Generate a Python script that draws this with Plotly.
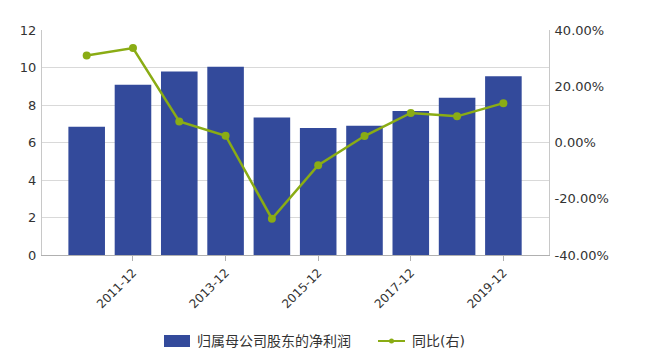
import plotly.graph_objects as go

categories = ["2010-12", "2011-12", "2012-12", "2013-12", "2014-12",
              "2015-12", "2016-12", "2017-12", "2018-12", "2019-12"]
net_profit = [6.84, 9.08, 9.79, 10.04, 7.34, 6.77, 6.90, 7.68, 8.39, 9.53]
yoy_pct = [30.9, 33.6, 7.5, 2.4, -27.1, -8.1, 2.3, 10.5, 9.3, 14.0]
x_tick_labels = ["2011-12", "2013-12", "2015-12", "2017-12", "2019-12"]
y2_tick_vals = [-40, -20, 0, 20, 40]
y2_tick_text = ["-40.00%", "-20.00%", "0.00%", "20.00%", "40.00%"]
bar_name = "归属母公司股东的净利润"
line_name = "同比(右)"

bar_color = "#334a9b"
line_color = "#8aac14"
font_fam = "DejaVu Sans, Noto Sans CJK SC"

L, R, T, B = 42, 101, 30, 104
W, H = 650, 359
PW, PH = W - L - R, H - T - B


def px(x):
    return (x - L) / PW


def py(y):
    return (H - B - y) / PH


fig = go.Figure()
fig.add_trace(go.Bar(
    x=categories, y=net_profit, name=bar_name,
    marker=dict(color=bar_color, line=dict(width=0)),
))
fig.add_trace(go.Scatter(
    x=categories, y=yoy_pct, name=line_name, yaxis="y2",
    mode="lines+markers",
    line=dict(color=line_color, width=2.5),
    marker=dict(color=line_color, size=8),
))

# custom legend (wide swatches like the reference)
shapes = [
    dict(type="rect", xref="paper", yref="paper",
         x0=px(164), x1=px(190), y0=py(347), y1=py(335),
         fillcolor=bar_color, line=dict(width=0)),
    dict(type="line", xref="paper", yref="paper",
         x0=px(378), x1=px(405), y0=py(341), y1=py(341),
         line=dict(color=line_color, width=2)),
    dict(type="circle", xref="paper", yref="paper",
         x0=px(389), x1=px(394), y0=py(343.5), y1=py(338.5),
         fillcolor=line_color, line=dict(width=0)),
]
annotations = [
    dict(text=bar_name, xref="paper", yref="paper", x=px(195), y=py(341),
         xanchor="left", yanchor="middle", showarrow=False,
         font=dict(size=14, color="#333333")),
    dict(text=line_name, xref="paper", yref="paper", x=px(410), y=py(341),
         xanchor="left", yanchor="middle", showarrow=False,
         font=dict(size=14, color="#333333")),
]

fig.update_layout(
    width=W, height=H,
    margin=dict(l=L, r=R, t=T, b=B, autoexpand=False),
    paper_bgcolor="white", plot_bgcolor="white",
    bargap=0.21,
    font=dict(family=font_fam, size=12, color="#333333"),
    showlegend=False,
    shapes=shapes, annotations=annotations,
    xaxis=dict(
        type="category", categoryorder="array", categoryarray=categories,
        range=[-0.965, 9.985],
        tickvals=x_tick_labels, ticktext=x_tick_labels,
        tickangle=-45, ticks="outside", ticklen=5, tickcolor="#b0b0b0",
        showline=True, linecolor="#b0b0b0", linewidth=1,
        showgrid=False, tickfont=dict(size=12, color="#333333"),
    ),
    yaxis=dict(
        range=[0, 12], dtick=2, showgrid=True, gridcolor="#d9d9d9", gridwidth=1,
        showline=True, linecolor="#c8c8c8", linewidth=1, zeroline=False,
        tickfont=dict(size=13, color="#333333"), ticklabelstandoff=2,
    ),
    yaxis2=dict(
        overlaying="y", side="right", range=[-40, 40],
        tickvals=y2_tick_vals, ticktext=y2_tick_text,
        showgrid=False, zeroline=False,
        showline=True, linecolor="#c8c8c8", linewidth=1,
        tickfont=dict(size=13, color="#333333"), ticklabelstandoff=2,
    ),
)

fig.write_html("out.html", config={"displayModeBar": False},
               post_script="document.body.style.margin='0';")
